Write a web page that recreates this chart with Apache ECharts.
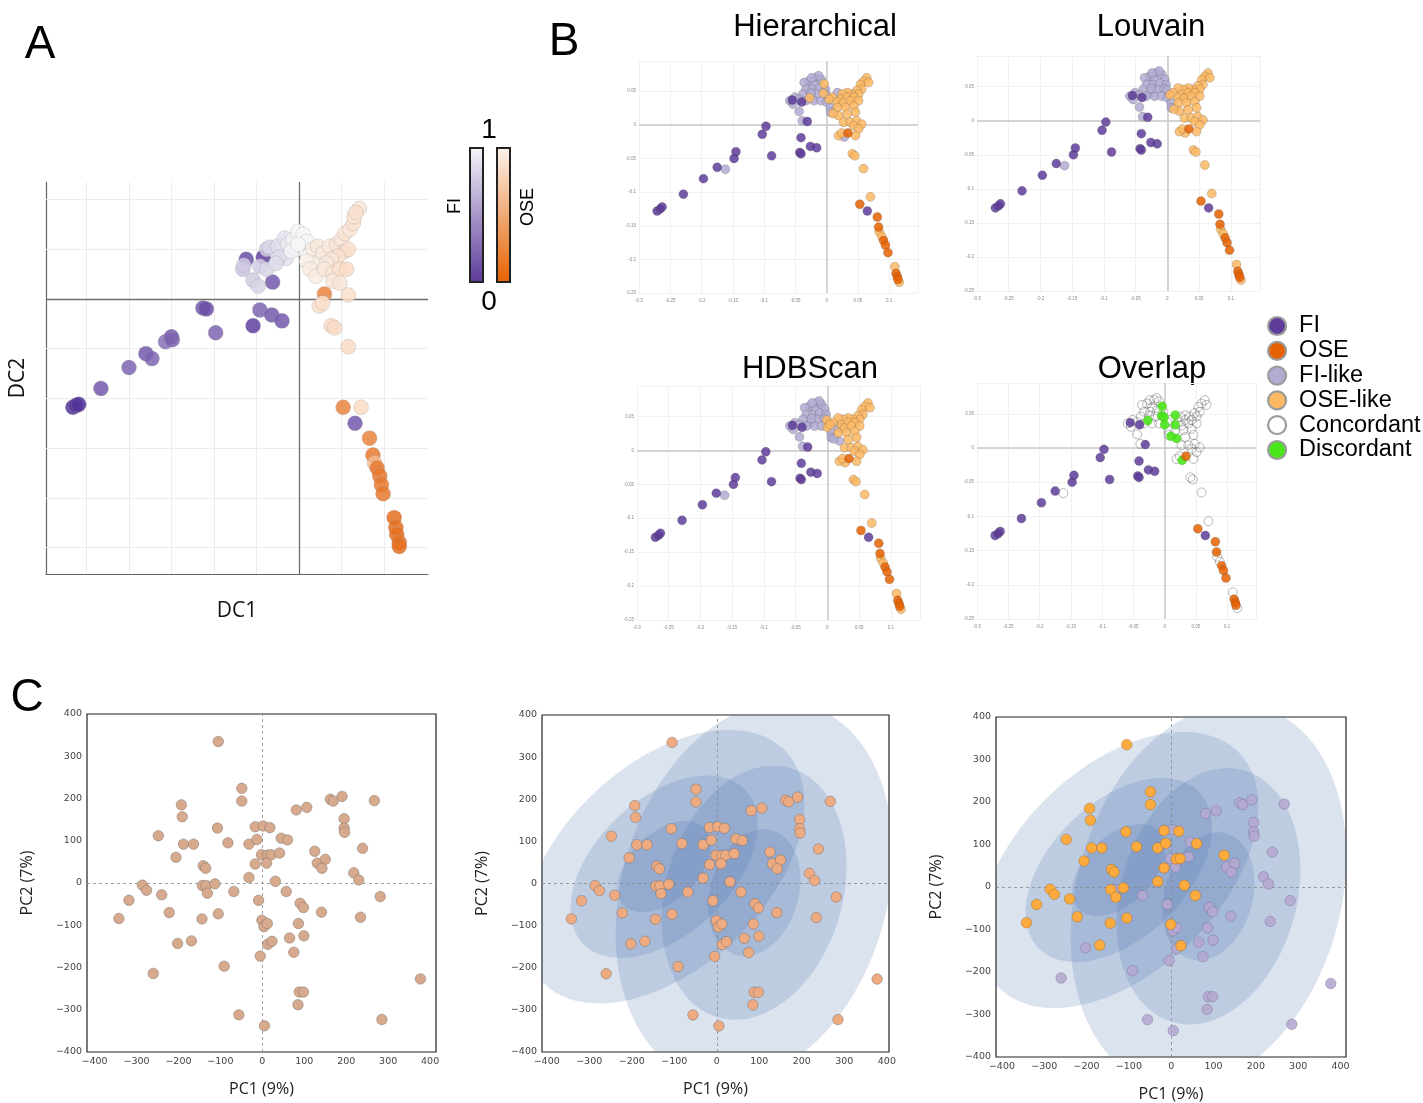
<!DOCTYPE html>
<html><head><meta charset="utf-8">
<script src="https://cdn.jsdelivr.net/npm/echarts@6/dist/echarts.min.js"></script>
<style>html,body{margin:0;padding:0;background:#fff}#c{width:1423px;height:1103px}</style>
</head><body><div id="c"></div>
<script>
// ---------- Panel A (diffusion map, colour = FI/OSE score) ----------
const aDC1 = [-0.266,-0.262,-0.259,-0.233,-0.200,-0.180,-0.173,-0.157,-0.150,-0.149,-0.113,-0.109,-0.098,-0.054,-0.046,-0.032,-0.020,-0.062,-0.042,-0.031,
 -0.066,-0.065,-0.054,-0.048,-0.046,-0.038,-0.038,-0.035,-0.025,-0.017,-0.013,-0.007,-0.001,0.005,0.009,-0.003,-0.015,-0.023,-0.027,-0.009,-0.001,
 0.016,0.022,0.028,0.036,0.044,0.050,0.054,0.060,0.064,0.065,0.071,0.067,0.054,0.058,0.046,0.038,0.032,0.024,0.016,0.009,0.013,0.020,0.030,0.040,0.048,0.056,0.040,0.048,0.058,
 0.030,0.024,0.028,0.038,0.042,0.058,0.052,0.073,0.066,0.083,0.087,0.089,0.092,0.095,0.097,0.099,0.112,0.114,0.115,0.118,0.118];
const aDC2 = [-0.109,-0.107,-0.106,-0.090,-0.069,-0.055,-0.060,-0.043,-0.038,-0.041,-0.009,-0.010,-0.034,-0.027,-0.011,-0.016,-0.022,0.040,0.042,0.017,
 0.030,0.034,0.019,0.013,0.033,0.030,0.050,0.052,0.053,0.061,0.055,0.060,0.068,0.065,0.058,0.050,0.041,0.042,0.036,0.048,0.055,
 0.050,0.053,0.046,0.053,0.055,0.060,0.066,0.070,0.076,0.083,0.091,0.087,0.048,0.050,0.043,0.040,0.036,0.033,0.036,0.038,0.030,0.023,0.030,0.026,0.030,0.030,0.018,0.016,0.004,
 0.005,-0.007,-0.004,-0.027,-0.029,-0.048,-0.109,-0.109,-0.125,-0.140,-0.157,-0.165,-0.170,-0.178,-0.187,-0.196,-0.220,-0.230,-0.237,-0.245,-0.249];
const aScore = [-1,-1,-1,-0.85,-0.8,-0.85,-0.8,-0.75,-0.85,-0.8,-0.85,-0.9,-0.8,-0.95,-0.8,-0.85,-0.85,-0.9,-0.95,-0.85,
 -0.35,-0.3,-0.3,-0.25,-0.3,-0.25,-0.3,-0.25,-0.2,-0.15,-0.1,-0.05,0,0,0.02,0,-0.15,-0.2,-0.2,-0.05,0,
 0.15,0.2,0.2,0.2,0.25,0.2,0.25,0.2,0.3,0.25,0.2,0.3,0.35,0.3,0.3,0.25,0.2,0.15,0.15,0.1,0.15,0.15,0.2,0.25,0.3,0.35,0.2,0.25,0.3,
 0.85,0.3,0.3,0.35,0.35,0.35,0.85,0.35,-0.85,0.85,0.9,0.6,0.9,0.9,0.9,0.9,0.95,0.95,0.95,0.95,0.95];
const aGridX = [-0.25,-0.2,-0.15,-0.1,-0.05,0.05,0.1];
const aGridY = [-0.25,-0.2,-0.15,-0.1,-0.05,0.05,0.1];

// ---------- Panel B (same embedding, cluster labels per method) ----------
const bDC1 = [-0.271,-0.266,-0.263,-0.229,-0.197,-0.175,-0.148,-0.145,-0.103,-0.097,
 -0.088,-0.043,-0.041,-0.041,-0.026,-0.016,-0.031,-0.055,-0.040,0.065,
 0.053,0.081,0.083,0.091,0.094,0.098,0.111,0.113,0.114,0.034,
 -0.162,-0.039,-0.044,0.041,0.045,0.059,0.070,0.084,0.088,0.109,
 0.116,-0.017,-0.009,-0.028,-0.036,-0.020,-0.004,-0.033,-0.023,-0.012,
 -0.002,-0.038,-0.027,-0.015,-0.005,-0.001,-0.051,-0.059,-0.044,-0.033,
 -0.020,-0.009,0.000,-0.054,0.006,0.006,-0.025,-0.013,-0.024,
 0.064,0.059,0.054,0.067,0.056,0.048,0.051,0.040,0.033,0.025,
 0.017,0.009,0.004,0.022,0.033,0.043,0.017,0.027,0.038,0.051,
 0.017,0.030,0.043,0.046,0.019,0.033,0.010,0.027,0.038,0.048,
 0.056,0.043,0.051,0.028,0.019,0.046,0.024];
const bDC2 = [-0.128,-0.125,-0.122,-0.103,-0.080,-0.063,-0.050,-0.040,-0.014,-0.002,
 -0.046,-0.041,-0.043,-0.019,-0.032,-0.034,0.005,0.037,0.034,-0.128,
 -0.118,-0.137,-0.152,-0.172,-0.179,-0.190,-0.221,-0.226,-0.230,-0.012,
 -0.066,0.006,0.020,-0.043,-0.046,-0.065,-0.107,-0.159,-0.166,-0.211,
 -0.234,0.070,0.068,0.065,0.063,0.060,0.061,0.053,0.053,0.055,
 0.053,0.046,0.040,0.046,0.047,0.045,0.041,0.036,0.038,0.036,
 0.036,0.036,0.034,0.031,0.026,0.019,0.047,0.073,0.070,
 0.070,0.065,0.060,0.063,0.053,0.051,0.046,0.046,0.048,0.046,
 0.048,0.041,0.038,0.038,0.041,0.041,0.034,0.033,0.036,0.036,
 0.026,0.026,0.028,0.019,0.014,0.016,0.017,0.004,0.004,0.006,
 0.001,-0.001,-0.006,-0.018,-0.016,-0.016,-0.012];
// F = FI, O = OSE (known); f = FI-like, o = OSE-like (predicted)
const bHier = ('FFFFFFFFFF'+'FFFFFFFFFF'+'OOOOOOOOOO'+'fffooooooo'+'offfffofff'+'ffofofffff'+'fffffffff'+'oooooooooo'+'fooooooooo'+'oooooooooo'+'ooofooo').split('');
const bLouv = ('FFFFFFFFFF'+'FFFFFFFFFF'+'OOOOOOOOOO'+'fffooooooo'+'offfffffff'+'ffffffffff'+'fffffffff'+'oooooooooo'+'oooooooooo'+'oooooooooo'+'ooooooo').split('');
const bHdb  = ('FFFFFFFFFF'+'FFFFFFFFFF'+'OOOOOOOOOO'+'fffooooooo'+'offfffffff'+'fffffoffff'+'ffoffffff'+'oooooooooo'+'oooooofooo'+'oooofofooo'+'ooooooo').split('');
const bMethods = ['Hierarchical','Louvain','HDBScan','Overlap'];
const legendNames = ['FI','OSE','FI-like','OSE-like','Concordant','Discordant'];

// ---------- Panel C (PCA) ----------
const cPC1 = [-105,-49,-49,-193,-191,-248,-107,-188,-164,-82,
 -206,-141,-135,-286,-276,-240,-318,-342,-222,-143,
 -134,-113,-131,-144,-105,-202,-169,-260,-91,-56,
 5,-68,-32,-32,-17,-13,2,18,-17,-2,
 12,21,10,41,45,60,31,-9,57,-1,
 4,12,13,23,-5,81,106,162,169,190,
 267,195,195,196,125,131,150,142,239,218,
 230,281,90,98,141,234,86,99,65,75,
 88,98,85,285,377];
const cPC2 = [335,224,194,185,157,112,130,92,92,95,
 61,41,35,-5,-17,-28,-41,-84,-70,-6,
 -6,-2,-24,-85,-73,-143,-137,-214,-197,-312,
 -338,-20,92,13,133,103,135,131,45,67,
 66,67,47,71,106,102,4,-41,-20,-88,
 -103,-96,-145,-138,-173,173,179,198,194,205,
 195,152,130,120,75,47,56,35,82,24,
 7,-32,-48,-58,-69,-81,-96,-125,-130,-164,
 -258,-258,-288,-323,-227];
const cGroup = ('OOOOOOOOOO'+'OOOOOOOOOO'+'POOOOPOPPP'+'PPOOOOPOOP'+'OOPPPOOPOO'+'PPPOPPPPPP'+'PPPPOPPPPP'+'PPPPPPPPPP'+'PPPPP').split('');
// confidence ellipses (1, 2, 3 sd) for two groups: centre x, centre y, semi-axis a, semi-axis b, angle (deg)
const ellCX = [-124, 88];
const ellCY = [40, -22];
const ellA = [132, 154];
const ellB = [80, 104];
const ellAngle = [44, 74];
const ellScale = [1, 2, 3];
const cTicks = [-400,-300,-200,-100,0,100,200,300,400];

// ================= build option =================
const SANS = 'Liberation Sans, Arial, sans-serif';
const COL = {F:'#5e3c99', O:'#e66101', f:'#b2abd2', o:'#fdb863'};
const NAME = {F:'FI', O:'OSE', f:'FI-like', o:'OSE-like'};

const grids = [
  {left:46, top:182, width:382, height:392},   // 0 A
  {left:639, top:61, width:279, height:232},   // 1 Hier
  {left:977, top:56, width:283, height:235},   // 2 Louvain
  {left:637, top:386, width:283, height:234},  // 3 HDBScan
  {left:977, top:383, width:279, height:236},  // 4 Overlap
  {left:87, top:714, width:349, height:338, show:true, borderColor:'#222', borderWidth:1.2},  // 5 C1
  {left:542, top:715, width:347, height:337, show:true, borderColor:'#222', borderWidth:1.2}, // 6 C2
  {left:996, top:717, width:350, height:340, show:true, borderColor:'#222', borderWidth:1.2}  // 7 C3
].map(g => Object.assign({outerBoundsMode:'none', containLabel:false}, g));

const xAxes = [], yAxes = [];
// A
xAxes.push({gridIndex:0, type:'value', min:-0.2976, max:0.1518, name:'DC1', nameLocation:'middle', nameGap:27,
  nameTextStyle:{fontFamily:'Open Sans', fontSize:21, color:'#111'},
  axisLine:{show:true, onZero:false, lineStyle:{color:'#666', width:1.2}}, axisTick:{show:false}, axisLabel:{show:false}, splitLine:{show:false}});
yAxes.push({gridIndex:0, type:'value', min:-0.2767, max:0.1177, name:'DC2', nameLocation:'middle', nameGap:17,
  nameTextStyle:{fontFamily:'Open Sans', fontSize:21, color:'#111'},
  axisLine:{show:true, onZero:false, lineStyle:{color:'#666', width:1.2}}, axisTick:{show:false}, axisLabel:{show:false}, splitLine:{show:false}});
// B
for (let g = 1; g <= 4; g++) {
  xAxes.push({gridIndex:g, type:'value', min:-0.3, max:0.146, interval:0.05,
    axisLine:{show:false}, axisTick:{show:false},
    axisLabel:{fontSize:4.5, color:'#888', margin:5, showMaxLabel:false, fontFamily:SANS},
    splitLine:{show:true, lineStyle:{color:'#f1f1f1', width:1}}});
  yAxes.push({gridIndex:g, type:'value', min:-0.25, max:0.095, interval:0.05,
    axisLine:{show:false}, axisTick:{show:false},
    axisLabel:{fontSize:4.5, color:'#888', margin:3, showMaxLabel:false, fontFamily:SANS},
    splitLine:{show:true, lineStyle:{color:'#f1f1f1', width:1}}});
}
// C
const fmtC = v => v < 0 ? '\u2212' + (-v) : String(v);
const cXR = [[-418,414],[-411,405],[-414,413]];
for (let k = 0; k < 3; k++) {
  const g = 5 + k;
  xAxes.push({gridIndex:g, type:'value', min:cXR[k][0], max:cXR[k][1], name:'PC1 (9%)', nameLocation:'middle', nameGap:29,
    nameTextStyle:{fontFamily:'Open Sans', fontSize:16, color:'#222'},
    axisLine:{show:false}, axisTick:{show:false, customValues:cTicks},
    axisLabel:{customValues:cTicks, formatter:fmtC, fontFamily:'DejaVu Sans', fontSize:9.5, color:'#444', margin:5},
    splitLine:{show:false}});
  yAxes.push({gridIndex:g, type:'value', min:-400, max:400, interval:100, name:'PC2 (7%)', nameLocation:'middle', nameGap:52,
    nameTextStyle:{fontFamily:'Open Sans', fontSize:16, color:'#222'},
    axisLine:{show:false}, axisTick:{show:false},
    axisLabel:{formatter:fmtC, fontFamily:'DejaVu Sans', fontSize:9.5, color:'#444', margin:5},
    splitLine:{show:false}});
}

const series = [];
function lineMarks(axisIdx, items, z) {
  series.push({type:'line', xAxisIndex:axisIdx, yAxisIndex:axisIdx, data:[], silent:true, z:z,
    markLine:{silent:true, symbol:['none','none'], animation:false, z:z, label:{show:false}, emphasis:{disabled:true}, data:items}});
}
// A gridlines + zero lines
lineMarks(0, aGridX.map(v => ({xAxis:v, lineStyle:{color:'#ececec', width:1, type:'solid'}}))
  .concat(aGridY.map(v => ({yAxis:v, lineStyle:{color:'#ececec', width:1, type:'solid'}})))
  .concat([{xAxis:0, lineStyle:{color:'#6e6e6e', width:1.3, type:'solid'}}, {yAxis:0, lineStyle:{color:'#6e6e6e', width:1.3, type:'solid'}}]), 1);
const aIndex = series.length;
series.push({type:'scatter', name:'A', xAxisIndex:0, yAxisIndex:0, z:3, symbolSize:15,
  data: aDC1.map((x, i) => [x, aDC2[i], aScore[i]]),
  itemStyle:{opacity:0.85, borderColor:'rgba(150,150,150,0.55)', borderWidth:0.6}});

// B panels
const bLabels = [bHier, bLouv, bHdb];
const bOverlap = bDC1.map((_, i) => {
  const h = bHier[i], l = bLouv[i], d = bHdb[i];
  if (h === l && l === d) return (h === 'F' || h === 'O') ? h : 'C';
  return 'D';
});
for (let p = 0; p < 4; p++) {
  const g = p + 1;
  lineMarks(g, [{xAxis:0, lineStyle:{color:'#c9c9c9', width:1.5, type:'solid'}}, {yAxis:0, lineStyle:{color:'#c9c9c9', width:1.5, type:'solid'}}], 1);
  const lab = p < 3 ? bLabels[p] : bOverlap;
  const order = p < 3 ? ['f','o','F','O'] : ['C','D','F','O'];
  order.forEach(code => {
    const pts = [];
    bDC1.forEach((x, i) => { if (lab[i] === code) pts.push([x, bDC2[i]]); });
    let name, style;
    if (code === 'C') { name = 'Concordant'; style = {color:'rgba(255,255,255,0)', borderColor:'rgba(90,90,90,0.75)', borderWidth:0.7}; }
    else if (code === 'D') { name = 'Discordant'; style = {color:'#4be51c', opacity:0.9, borderColor:'rgba(60,160,20,0.6)', borderWidth:0.5}; }
    else { name = NAME[code]; style = {color:COL[code], opacity:0.85, borderColor:'rgba(70,70,70,0.55)', borderWidth:0.5}; }
    series.push({type:'scatter', name:name, xAxisIndex:g, yAxisIndex:g, z:3, symbolSize:9, data:pts, itemStyle:style});
  });
}

// C panels
function clipPoly(pts, x0, x1, y0, y1) {
  const tests = [
    [p => p[0] >= x0, (a, b) => { const t = (x0 - a[0]) / (b[0] - a[0]); return [x0, a[1] + t * (b[1] - a[1])]; }],
    [p => p[0] <= x1, (a, b) => { const t = (x1 - a[0]) / (b[0] - a[0]); return [x1, a[1] + t * (b[1] - a[1])]; }],
    [p => p[1] >= y0, (a, b) => { const t = (y0 - a[1]) / (b[1] - a[1]); return [a[0] + t * (b[0] - a[0]), y0]; }],
    [p => p[1] <= y1, (a, b) => { const t = (y1 - a[1]) / (b[1] - a[1]); return [a[0] + t * (b[0] - a[0]), y1]; }]
  ];
  let out = pts;
  tests.forEach(([inside, inter]) => {
    const inp = out; out = [];
    for (let i = 0; i < inp.length; i++) {
      const cur = inp[i], prev = inp[(i + inp.length - 1) % inp.length];
      if (inside(cur)) { if (!inside(prev)) out.push(inter(prev, cur)); out.push(cur); }
      else if (inside(prev)) out.push(inter(prev, cur));
    }
  });
  return out;
}
const ellData = [];
ellCX.forEach((cx, gi) => ellScale.forEach(s => ellData.push([cx, ellCY[gi], ellA[gi] * s, ellB[gi] * s, ellAngle[gi]])));
function ellRender(xr) {
  return function (params, api) {
    const cx = api.value(0), cy = api.value(1), a = api.value(2), b = api.value(3), ang = api.value(4) * Math.PI / 180;
    let pts = [];
    for (let k = 0; k < 180; k++) {
      const t = 2 * Math.PI * k / 180, ex = a * Math.cos(t), ey = b * Math.sin(t);
      pts.push([cx + ex * Math.cos(ang) - ey * Math.sin(ang), cy + ex * Math.sin(ang) + ey * Math.cos(ang)]);
    }
    pts = clipPoly(pts, xr[0], xr[1], -400, 400);
    return {type:'polygon', silent:true, shape:{points: pts.map(p => api.coord(p))}, style:{fill:'rgba(76,114,176,0.2)', stroke:null}};
  };
}
for (let k = 0; k < 3; k++) {
  const g = 5 + k;
  if (k > 0) {
    series.push({type:'custom', name:'ellipses' + k, xAxisIndex:g, yAxisIndex:g, z:1, silent:true,
      renderItem: ellRender(cXR[k]), data: ellData, clip:true});
  }
  lineMarks(g, [{xAxis:0, lineStyle:{color:'#8a8a8a', width:0.8, type:[3,3]}}, {yAxis:0, lineStyle:{color:'#8a8a8a', width:0.8, type:[3,3]}}], 2);
  if (k < 2) {
    series.push({type:'scatter', name:'C' + k, xAxisIndex:g, yAxisIndex:g, z:3, symbolSize:10.5,
      data: cPC1.map((x, i) => [x, cPC2[i]]),
      itemStyle:{color: k === 0 ? '#d7aa8d' : '#eeaa80', opacity:1, borderColor:'rgba(120,110,105,0.8)', borderWidth:0.6}});
  } else {
    ['P','O'].forEach(gr => {
      const pts = [];
      cPC1.forEach((x, i) => { if (cGroup[i] === gr) pts.push([x, cPC2[i]]); });
      series.push({type:'scatter', name:'C3' + gr, xAxisIndex:g, yAxisIndex:g, z:3, symbolSize:10.5, data:pts,
        itemStyle: gr === 'O' ? {color:'#fdab3f', opacity:1, borderColor:'rgba(160,110,40,0.8)', borderWidth:0.6}
                              : {color:'#b5a8d0', opacity:0.9, borderColor:'rgba(120,110,150,0.8)', borderWidth:0.6}});
    });
  }
}

// texts & colour bars
const txt = (t, x, y, size, extra) => Object.assign({type:'text', x:x, y:y, silent:true,
  style:{text:t, fontFamily:SANS, fontSize:size, fill:'#000', align:'center', verticalAlign:'middle'}}, extra || {});
const graphic = [
  txt('A', 40, 45, 46), txt('B', 564, 42, 46), txt('C', 27, 698, 46),
  txt('Hierarchical', 815, 27, 31), txt('Louvain', 1151, 27, 31),
  txt('HDBScan', 810, 369, 31), txt('Overlap', 1152, 369, 31),
  txt('1', 489, 130, 28), txt('0', 489, 302, 28),
  txt('FI', 455, 206, 18, {rotation: Math.PI / 2}),
  txt('OSE', 528, 207, 18, {rotation: Math.PI / 2}),
  {type:'rect', silent:true, shape:{x:470, y:148, width:13, height:134},
    style:{fill:{type:'linear', x:0, y:0, x2:0, y2:1, colorStops:[{offset:0, color:'#f6f5f9'}, {offset:1, color:'#5b3a98'}]}, stroke:'#222', lineWidth:2}},
  {type:'rect', silent:true, shape:{x:497, y:148, width:13, height:134},
    style:{fill:{type:'linear', x:0, y:0, x2:0, y2:1, colorStops:[{offset:0, color:'#fcf3ec'}, {offset:1, color:'#e66101'}]}, stroke:'#222', lineWidth:2}}
];

const legCol = {FI:'#5e3c99', OSE:'#e66101', 'FI-like':'#b2abd2', 'OSE-like':'#fdb863', Concordant:'#ffffff', Discordant:'#4be51c'};
const option = {
  animation:false,
  backgroundColor:'#fff',
  grid: grids, xAxis: xAxes, yAxis: yAxes,
  visualMap: [{type:'continuous', show:false, seriesIndex:aIndex, dimension:2, min:-1, max:1,
    inRange:{color:['#55349a','#b8add6','#f8f8f8','#f9cfae','#e3640f']}}],
  legend: {orient:'vertical', left:1262, top:309, itemWidth:18, itemHeight:18, itemGap:0.8, selectedMode:false,
    textStyle:{fontFamily:SANS, fontSize:23.5, color:'#000', lineHeight:24, padding:[0,0,0,8]},
    data: legendNames.map(n => ({name:n, icon:'circle', itemStyle:{color:legCol[n], opacity:1, borderColor:'#9c9c9c', borderWidth:2.2}}))},
  graphic: graphic,
  series: series
};
const chart = echarts.init(document.getElementById('c'));
chart.setOption(option);
</script></body></html>
